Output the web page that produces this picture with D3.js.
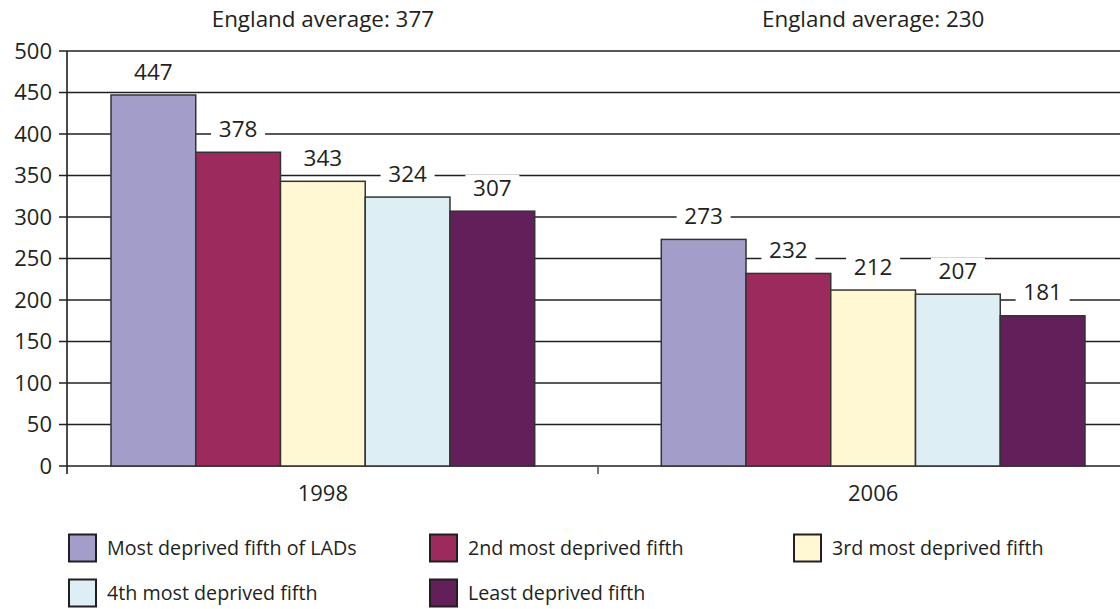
<!DOCTYPE html>
<html>
<head>
<meta charset="utf-8">
<script src="https://cdn.jsdelivr.net/npm/d3@7"></script>
<style>
  html, body { margin: 0; padding: 0; background: #fff; }
  svg text { font-family: 'Open Sans', 'DejaVu Sans', sans-serif; fill: #231f20; }
</style>
</head>
<body>
<div id="svg-container"></div>
<script>
// data
const years = ['1998', '2006']
const seriesNames = [
  'Most deprived fifth of LADs',
  '2nd most deprived fifth',
  '3rd most deprived fifth',
  '4th most deprived fifth',
  'Least deprived fifth',
]
const values1998 = [447, 378, 343, 324, 307]
const values2006 = [273, 232, 212, 207, 181]
const englandAverage = [377, 230]
const yTicks = [0, 50, 100, 150, 200, 250, 300, 350, 400, 450, 500]
const seriesColors = ['#a29ec9', '#9c2a5c', '#fff8d3', '#ddeef5', '#621f5a']

const width = 1120
const height = 609

const plotLeft = 67
const plotRight = 1120
const plotTop = 51
const plotBottom = 466

const data = years.map((year, i) => ({
  year,
  average: englandAverage[i],
  values: (i === 0 ? values1998 : values2006).map((v, j) => ({
    name: seriesNames[j],
    value: v,
  })),
}))

const svg = d3
  .select('#svg-container')
  .append('svg')
  .attr('width', width)
  .attr('height', height)
  .attr('viewBox', `0 0 ${width} ${height}`)

const yScale = d3.scaleLinear().domain([0, 500]).range([plotBottom, plotTop])

const x0 = d3
  .scaleBand()
  .domain(years)
  .range([111, 1085])
  .paddingInner(0.23)
  .paddingOuter(0)

const x1 = d3
  .scaleBand()
  .domain(seriesNames)
  .range([0, x0.bandwidth()])

const color = d3.scaleOrdinal().domain(seriesNames).range(seriesColors)

// gridlines + left ticks
svg
  .append('g')
  .selectAll('line')
  .data(yTicks)
  .join('line')
  .attr('x1', plotLeft - 8)
  .attr('x2', plotRight)
  .attr('y1', d => yScale(d))
  .attr('y2', d => yScale(d))
  .attr('stroke', '#231f20')
  .attr('stroke-width', 1.4)

svg
  .append('g')
  .selectAll('text')
  .data(yTicks)
  .join('text')
  .attr('x', plotLeft - 15)
  .attr('y', d => yScale(d))
  .attr('dy', '0.36em')
  .attr('text-anchor', 'end')
  .style('font-size', '22px')
  .text(d => d)

// y axis line
svg
  .append('line')
  .attr('x1', plotLeft)
  .attr('x2', plotLeft)
  .attr('y1', yScale(500))
  .attr('y2', plotBottom + 8)
  .attr('stroke', '#231f20')
  .attr('stroke-width', 1.6)

// category divider tick
const dividerX = x0('2006') - (x0.step() * x0.paddingInner()) / 2
svg
  .append('line')
  .attr('x1', dividerX)
  .attr('x2', dividerX)
  .attr('y1', plotBottom)
  .attr('y2', plotBottom + 8)
  .attr('stroke', '#555')
  .attr('stroke-width', 1.6)

// bars
const groups = svg
  .append('g')
  .selectAll('g')
  .data(data)
  .join('g')
  .attr('transform', d => `translate(${x0(d.year)},0)`)

groups
  .selectAll('rect')
  .data(d => d.values)
  .join('rect')
  .attr('x', d => x1(d.name))
  .attr('y', d => yScale(d.value))
  .attr('width', x1.bandwidth())
  .attr('height', d => plotBottom - yScale(d.value))
  .attr('fill', d => color(d.name))
  .attr('stroke', '#333')
  .attr('stroke-width', 1.5)

// value labels with white boxes over gridlines
const labels = groups
  .selectAll('g.lab')
  .data(d => d.values)
  .join('g')
  .attr('class', 'lab')
  .attr(
    'transform',
    d => `translate(${x1(d.name) + x1.bandwidth() / 2},${yScale(d.value) - 23.5})`,
  )

labels
  .append('rect')
  .attr('x', -27)
  .attr('y', -13)
  .attr('width', 54)
  .attr('height', 26)
  .attr('fill', '#fff')

labels
  .append('text')
  .attr('text-anchor', 'middle')
  .attr('dy', '0.36em')
  .style('font-size', '22.5px')
  .text(d => d.value)

// headers
svg
  .append('g')
  .selectAll('text')
  .data(data)
  .join('text')
  .attr('x', d => x0(d.year) + x0.bandwidth() / 2)
  .attr('y', 18.5)
  .attr('dy', '0.36em')
  .attr('text-anchor', 'middle')
  .style('font-size', '22.4px')
  .text(d => `England average: ${d.average}`)

// category labels
svg
  .append('g')
  .selectAll('text')
  .data(years)
  .join('text')
  .attr('x', d => x0(d) + x0.bandwidth() / 2)
  .attr('y', 493)
  .attr('dy', '0.36em')
  .attr('text-anchor', 'middle')
  .style('font-size', '22px')
  .text(d => d)

// legend
const legendCols = [69, 430, 794]
const legendRows = [548, 593]
const legend = svg
  .append('g')
  .selectAll('g')
  .data(seriesNames)
  .join('g')
  .attr(
    'transform',
    (d, i) => `translate(${legendCols[i % 3]},${legendRows[Math.floor(i / 3)]})`,
  )

legend
  .append('rect')
  .attr('x', 0)
  .attr('y', -13.5)
  .attr('width', 27)
  .attr('height', 27)
  .attr('fill', d => color(d))
  .attr('stroke', '#231f20')
  .attr('stroke-width', 2)

legend
  .append('text')
  .attr('x', 38)
  .attr('dy', '0.36em')
  .style('font-size', '19.7px')
  .text(d => d)
</script>
</body>
</html>
